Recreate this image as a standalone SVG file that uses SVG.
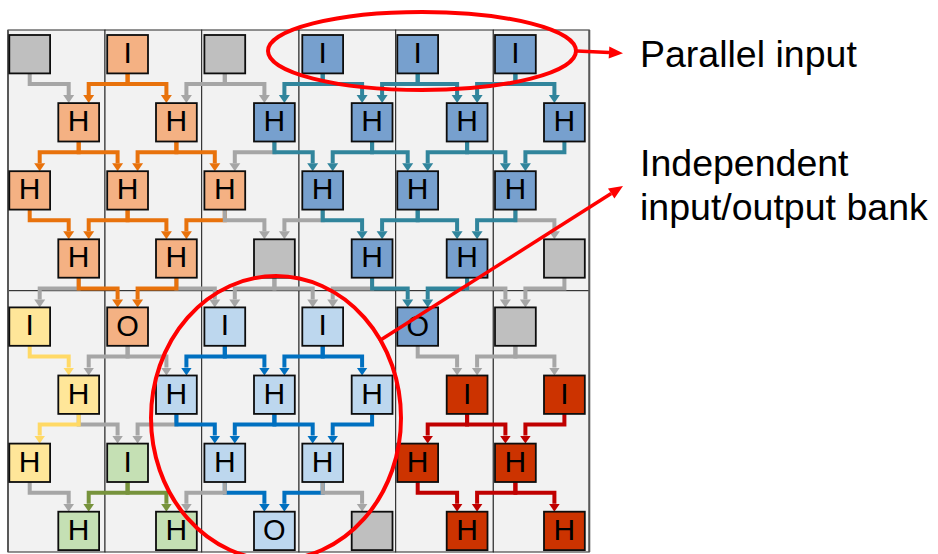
<svg xmlns="http://www.w3.org/2000/svg" width="938" height="554" viewBox="0 0 938 554">
  <style>
    .cell { fill:#F2F2F2; stroke:#262626; stroke-width:1; }
    .frame { fill:none; stroke:#595959; stroke-width:2; }
    .node rect { stroke:#0d0d0d; stroke-width:1.8; }
    .node text { font-family:"Liberation Sans", Arial, sans-serif; font-size:30px; text-anchor:middle; fill:#000; }
    .node text.o { font-size:29px; }
    .gry { fill:#BFBFBF; }
    .org { fill:#F4B183; }
    .blu { fill:#77A0CE; }
    .lbl { fill:#BDD7EE; }
    .yel { fill:#FFE699; }
    .grn { fill:#C5E0B4; }
    .red { fill:#CC3300; }
    .w { fill:none; stroke-width:4; stroke-linejoin:miter; stroke-linecap:butt; }
    .w-gry { stroke:#A6A6A6; marker-end:url(#ah-gry); }
    .w-org { stroke:#E8720C; marker-end:url(#ah-org); }
    .w-tea { stroke:#31859C; marker-end:url(#ah-tea); }
    .w-blu { stroke:#0070C0; marker-end:url(#ah-blu); }
    .w-yel { stroke:#FFD966; marker-end:url(#ah-yel); }
    .w-grn { stroke:#77933C; marker-end:url(#ah-grn); }
    .w-red { stroke:#C00000; marker-end:url(#ah-red); }
    .callout { fill:none; stroke:#FF0000; stroke-width:4; }
    .pointer { stroke:#FF0000; stroke-width:3.5; fill:none; }
    .tip { fill:#FF0000; }
    .label { font-family:"Liberation Sans", Arial, sans-serif; font-size:37.5px; fill:#000; }
  </style>
  <defs>
    <marker id="ah-gry" markerUnits="userSpaceOnUse" viewBox="0 -6 9 12" refX="0" refY="0" markerWidth="9" markerHeight="12" orient="auto"><path d="M0,-5.5 L8,0 L0,5.5 z" fill="#A6A6A6"/></marker>
    <marker id="ah-org" markerUnits="userSpaceOnUse" viewBox="0 -6 9 12" refX="0" refY="0" markerWidth="9" markerHeight="12" orient="auto"><path d="M0,-5.5 L8,0 L0,5.5 z" fill="#E8720C"/></marker>
    <marker id="ah-tea" markerUnits="userSpaceOnUse" viewBox="0 -6 9 12" refX="0" refY="0" markerWidth="9" markerHeight="12" orient="auto"><path d="M0,-5.5 L8,0 L0,5.5 z" fill="#31859C"/></marker>
    <marker id="ah-blu" markerUnits="userSpaceOnUse" viewBox="0 -6 9 12" refX="0" refY="0" markerWidth="9" markerHeight="12" orient="auto"><path d="M0,-5.5 L8,0 L0,5.5 z" fill="#0070C0"/></marker>
    <marker id="ah-yel" markerUnits="userSpaceOnUse" viewBox="0 -6 9 12" refX="0" refY="0" markerWidth="9" markerHeight="12" orient="auto"><path d="M0,-5.5 L8,0 L0,5.5 z" fill="#FFD966"/></marker>
    <marker id="ah-grn" markerUnits="userSpaceOnUse" viewBox="0 -6 9 12" refX="0" refY="0" markerWidth="9" markerHeight="12" orient="auto"><path d="M0,-5.5 L8,0 L0,5.5 z" fill="#77933C"/></marker>
    <marker id="ah-red" markerUnits="userSpaceOnUse" viewBox="0 -6 9 12" refX="0" refY="0" markerWidth="9" markerHeight="12" orient="auto"><path d="M0,-5.5 L8,0 L0,5.5 z" fill="#C00000"/></marker>
  </defs>

  <!-- column cells: upper and lower panels -->
  <g id="grid">
    <rect class="cell" x="8" y="30" width="97" height="260.7"/>
    <rect class="cell" x="105" y="30" width="96.7" height="260.7"/>
    <rect class="cell" x="201.7" y="30" width="97.3" height="260.7"/>
    <rect class="cell" x="299" y="30" width="96.7" height="260.7"/>
    <rect class="cell" x="395.7" y="30" width="97.6" height="260.7"/>
    <rect class="cell" x="493.3" y="30" width="96" height="260.7"/>
    <rect class="cell" x="8" y="290.7" width="97" height="261.3"/>
    <rect class="cell" x="105" y="290.7" width="96.7" height="261.3"/>
    <rect class="cell" x="201.7" y="290.7" width="97.3" height="261.3"/>
    <rect class="cell" x="299" y="290.7" width="96.7" height="261.3"/>
    <rect class="cell" x="395.7" y="290.7" width="97.6" height="261.3"/>
    <rect class="cell" x="493.3" y="290.7" width="96" height="261.3"/>
    <path class="frame" d="M8,30 V552 M589.3,30 V552"/>
  </g>

  <!-- connectors -->
  <g id="connectors">
    <!-- row 1 to row 2 -->
    <path class="w w-gry" d="M29.7 72.4 V84.1 H68.7 V95.1"/>
    <path class="w w-org" d="M127.6 72.4 V84.1 H88.7 V95.1"/>
    <path class="w w-org" d="M127.6 72.4 V84.1 H166.4 V95.1"/>
    <path class="w w-gry" d="M224.8 72.4 V84.1 H186.4 V95.1"/>
    <path class="w w-gry" d="M224.8 72.4 V84.1 H264.4 V95.1"/>
    <path class="w w-tea" d="M322.7 72.4 V84.1 H284.4 V95.1"/>
    <path class="w w-tea" d="M322.7 72.4 V84.1 H362.1 V95.1"/>
    <path class="w w-tea" d="M417.7 72.4 V84.1 H382.1 V95.1"/>
    <path class="w w-tea" d="M417.7 72.4 V84.1 H457.1 V95.1"/>
    <path class="w w-tea" d="M515.4 72.4 V84.1 H477.1 V95.1"/>
    <path class="w w-tea" d="M515.4 72.4 V84.1 H554.4 V95.1"/>

    <!-- row 2 to row 3 -->
    <path class="w w-org" d="M78.7 140.5 V152.2 H39.7 V163.2"/>
    <path class="w w-org" d="M78.7 140.5 V152.2 H117.6 V163.2"/>
    <path class="w w-org" d="M176.4 140.5 V152.2 H137.6 V163.2"/>
    <path class="w w-org" d="M176.4 140.5 V152.2 H214.8 V163.2"/>
    <path class="w w-gry" d="M274.4 140.5 V152.2 H234.8 V163.2"/>
    <path class="w w-tea" d="M274.4 140.5 V152.2 H312.7 V163.2"/>
    <path class="w w-tea" d="M372.1 140.5 V152.2 H332.7 V163.2"/>
    <path class="w w-tea" d="M372.1 140.5 V152.2 H407.7 V163.2"/>
    <path class="w w-tea" d="M467.1 140.5 V152.2 H427.7 V163.2"/>
    <path class="w w-tea" d="M467.1 140.5 V152.2 H505.4 V163.2"/>
    <path class="w w-tea" d="M564.4 140.5 V152.2 H525.4 V163.2"/>

    <!-- row 3 to row 4 -->
    <path class="w w-org" d="M29.7 208.6 V220.3 H68.7 V231.3"/>
    <path class="w w-org" d="M127.6 208.6 V220.3 H88.7 V231.3"/>
    <path class="w w-org" d="M127.6 208.6 V220.3 H166.4 V231.3"/>
    <path class="w w-org" d="M224.8 208.6 V220.3 H186.4 V231.3"/>
    <path class="w w-gry" d="M224.8 208.6 V220.3 H264.4 V231.3"/>
    <path class="w w-gry" d="M322.7 208.6 V220.3 H284.4 V231.3"/>
    <path class="w w-tea" d="M322.7 208.6 V220.3 H362.1 V231.3"/>
    <path class="w w-tea" d="M417.7 208.6 V220.3 H382.1 V231.3"/>
    <path class="w w-tea" d="M417.7 208.6 V220.3 H457.1 V231.3"/>
    <path class="w w-gry" d="M515.4 208.6 V220.3 H554.4 V231.3"/>
    <path class="w w-tea" d="M515.4 208.6 V220.3 H477.1 V231.3"/>

    <!-- row 4 to row 5 -->
    <path class="w w-gry" d="M78.7 276.7 V288.4 H39.7 V299.4"/>
    <path class="w w-org" d="M78.7 276.7 V288.4 H117.6 V299.4"/>
    <path class="w w-gry" d="M176.4 276.7 V288.4 H214.8 V299.4"/>
    <path class="w w-org" d="M176.4 276.7 V288.4 H137.6 V299.4"/>
    <path class="w w-gry" d="M274.4 276.7 V288.4 H234.8 V299.4"/>
    <path class="w w-gry" d="M274.4 276.7 V288.4 H312.7 V299.4"/>
    <path class="w w-gry" d="M372.1 276.7 V288.4 H332.7 V299.4"/>
    <path class="w w-tea" d="M372.1 276.7 V288.4 H407.7 V299.4"/>
    <path class="w w-gry" d="M467.1 276.7 V288.4 H505.4 V299.4"/>
    <path class="w w-tea" d="M467.1 276.7 V288.4 H427.7 V299.4"/>
    <path class="w w-gry" d="M564.4 276.7 V288.4 H525.4 V299.4"/>

    <!-- row 5 to row 6 -->
    <path class="w w-yel" d="M29.7 344.8 V356.5 H68.7 V367.5"/>
    <path class="w w-gry" d="M127.6 344.8 V356.5 H88.7 V367.5"/>
    <path class="w w-gry" d="M127.6 344.8 V356.5 H166.4 V367.5"/>
    <path class="w w-blu" d="M224.8 344.8 V356.5 H186.4 V367.5"/>
    <path class="w w-blu" d="M224.8 344.8 V356.5 H264.4 V367.5"/>
    <path class="w w-blu" d="M322.7 344.8 V356.5 H284.4 V367.5"/>
    <path class="w w-blu" d="M322.7 344.8 V356.5 H362.1 V367.5"/>
    <path class="w w-gry" d="M417.7 344.8 V356.5 H457.1 V367.5"/>
    <path class="w w-gry" d="M515.4 344.8 V356.5 H477.1 V367.5"/>
    <path class="w w-gry" d="M515.4 344.8 V356.5 H554.4 V367.5"/>

    <!-- row 6 to row 7 -->
    <path class="w w-gry" d="M78.7 412.9 V424.6 H117.6 V435.6"/>
    <path class="w w-yel" d="M78.7 412.9 V424.6 H39.7 V435.6"/>
    <path class="w w-gry" d="M176.4 412.9 V424.6 H137.6 V435.6"/>
    <path class="w w-blu" d="M176.4 412.9 V424.6 H214.8 V435.6"/>
    <path class="w w-blu" d="M274.4 412.9 V424.6 H234.8 V435.6"/>
    <path class="w w-blu" d="M274.4 412.9 V424.6 H312.7 V435.6"/>
    <path class="w w-blu" d="M372.1 412.9 V424.6 H332.7 V435.6"/>
    <path class="w w-red" d="M467.1 412.9 V424.6 H427.7 V435.6"/>
    <path class="w w-red" d="M467.1 412.9 V424.6 H505.4 V435.6"/>
    <path class="w w-red" d="M564.4 412.9 V424.6 H525.4 V435.6"/>

    <!-- row 7 to row 8 -->
    <path class="w w-gry" d="M29.7 481 V492.7 H68.7 V503.7"/>
    <path class="w w-grn" d="M127.6 481 V492.7 H88.7 V503.7"/>
    <path class="w w-grn" d="M127.6 481 V492.7 H166.4 V503.7"/>
    <path class="w w-blu" d="M224.8 481 V492.7 H264.4 V503.7"/>
    <path class="w w-gry" d="M224.8 481 V492.7 H186.4 V503.7"/>
    <path class="w w-blu" d="M322.7 481 V492.7 H284.4 V503.7"/>
    <path class="w w-gry" d="M322.7 481 V492.7 H362.1 V503.7"/>
    <path class="w w-red" d="M417.7 481 V492.7 H457.1 V503.7"/>
    <path class="w w-red" d="M515.4 481 V492.7 H477.1 V503.7"/>
    <path class="w w-red" d="M515.4 481 V492.7 H554.4 V503.7"/>
  </g>

  <!-- row 1 -->
  <g id="n11" class="node"><rect class="gry" x="9.3" y="35" width="40.8" height="38.4"/></g>
  <g id="n12" class="node"><rect class="org" x="107.2" y="35" width="40.8" height="38.4"/><text x="127.6" y="63">I</text></g>
  <g id="n13" class="node"><rect class="gry" x="204.4" y="35" width="40.8" height="38.4"/></g>
  <g id="n14" class="node"><rect class="blu" x="302.3" y="35" width="40.8" height="38.4"/><text x="322.7" y="63">I</text></g>
  <g id="n15" class="node"><rect class="blu" x="397.3" y="35" width="40.8" height="38.4"/><text x="417.7" y="63">I</text></g>
  <g id="n16" class="node"><rect class="blu" x="495" y="35" width="40.8" height="38.4"/><text x="515.4" y="63">I</text></g>

  <!-- row 2 -->
  <g id="n21" class="node"><rect class="org" x="58.3" y="103.1" width="40.8" height="38.4"/><text x="78.7" y="131.1">H</text></g>
  <g id="n22" class="node"><rect class="org" x="156" y="103.1" width="40.8" height="38.4"/><text x="176.4" y="131.1">H</text></g>
  <g id="n23" class="node"><rect class="blu" x="254" y="103.1" width="40.8" height="38.4"/><text x="274.4" y="131.1">H</text></g>
  <g id="n24" class="node"><rect class="blu" x="351.7" y="103.1" width="40.8" height="38.4"/><text x="372.1" y="131.1">H</text></g>
  <g id="n25" class="node"><rect class="blu" x="446.7" y="103.1" width="40.8" height="38.4"/><text x="467.1" y="131.1">H</text></g>
  <g id="n26" class="node"><rect class="blu" x="544" y="103.1" width="40.8" height="38.4"/><text x="564.4" y="131.1">H</text></g>

  <!-- row 3 -->
  <g id="n31" class="node"><rect class="org" x="9.3" y="171.2" width="40.8" height="38.4"/><text x="29.7" y="199.2">H</text></g>
  <g id="n32" class="node"><rect class="org" x="107.2" y="171.2" width="40.8" height="38.4"/><text x="127.6" y="199.2">H</text></g>
  <g id="n33" class="node"><rect class="org" x="204.4" y="171.2" width="40.8" height="38.4"/><text x="224.8" y="199.2">H</text></g>
  <g id="n34" class="node"><rect class="blu" x="302.3" y="171.2" width="40.8" height="38.4"/><text x="322.7" y="199.2">H</text></g>
  <g id="n35" class="node"><rect class="blu" x="397.3" y="171.2" width="40.8" height="38.4"/><text x="417.7" y="199.2">H</text></g>
  <g id="n36" class="node"><rect class="blu" x="495" y="171.2" width="40.8" height="38.4"/><text x="515.4" y="199.2">H</text></g>

  <!-- row 4 -->
  <g id="n41" class="node"><rect class="org" x="58.3" y="239.3" width="40.8" height="38.4"/><text x="78.7" y="267.3">H</text></g>
  <g id="n42" class="node"><rect class="org" x="156" y="239.3" width="40.8" height="38.4"/><text x="176.4" y="267.3">H</text></g>
  <g id="n43" class="node"><rect class="gry" x="254" y="239.3" width="40.8" height="38.4"/></g>
  <g id="n44" class="node"><rect class="blu" x="351.7" y="239.3" width="40.8" height="38.4"/><text x="372.1" y="267.3">H</text></g>
  <g id="n45" class="node"><rect class="blu" x="446.7" y="239.3" width="40.8" height="38.4"/><text x="467.1" y="267.3">H</text></g>
  <g id="n46" class="node"><rect class="gry" x="544" y="239.3" width="40.8" height="38.4"/></g>

  <!-- row 5 -->
  <g id="n51" class="node"><rect class="yel" x="9.3" y="307.4" width="40.8" height="38.4"/><text x="29.7" y="335.4">I</text></g>
  <g id="n52" class="node"><rect class="org" x="107.2" y="307.4" width="40.8" height="38.4"/><text class="o" x="127.6" y="335.6">O</text></g>
  <g id="n53" class="node"><rect class="lbl" x="204.4" y="307.4" width="40.8" height="38.4"/><text x="224.8" y="335.4">I</text></g>
  <g id="n54" class="node"><rect class="lbl" x="302.3" y="307.4" width="40.8" height="38.4"/><text x="322.7" y="335.4">I</text></g>
  <g id="n55" class="node"><rect class="blu" x="397.3" y="307.4" width="40.8" height="38.4"/><text class="o" x="417.7" y="335.6">O</text></g>
  <g id="n56" class="node"><rect class="gry" x="495" y="307.4" width="40.8" height="38.4"/></g>

  <!-- row 6 -->
  <g id="n61" class="node"><rect class="yel" x="58.3" y="375.5" width="40.8" height="38.4"/><text x="78.7" y="403.5">H</text></g>
  <g id="n62" class="node"><rect class="lbl" x="156" y="375.5" width="40.8" height="38.4"/><text x="176.4" y="403.5">H</text></g>
  <g id="n63" class="node"><rect class="lbl" x="254" y="375.5" width="40.8" height="38.4"/><text x="274.4" y="403.5">H</text></g>
  <g id="n64" class="node"><rect class="lbl" x="351.7" y="375.5" width="40.8" height="38.4"/><text x="372.1" y="403.5">H</text></g>
  <g id="n65" class="node"><rect class="red" x="446.7" y="375.5" width="40.8" height="38.4"/><text x="467.1" y="403.5">I</text></g>
  <g id="n66" class="node"><rect class="red" x="544" y="375.5" width="40.8" height="38.4"/><text x="564.4" y="403.5">I</text></g>

  <!-- row 7 -->
  <g id="n71" class="node"><rect class="yel" x="9.3" y="443.6" width="40.8" height="38.4"/><text x="29.7" y="471.6">H</text></g>
  <g id="n72" class="node"><rect class="grn" x="107.2" y="443.6" width="40.8" height="38.4"/><text x="127.6" y="471.6">I</text></g>
  <g id="n73" class="node"><rect class="lbl" x="204.4" y="443.6" width="40.8" height="38.4"/><text x="224.8" y="471.6">H</text></g>
  <g id="n74" class="node"><rect class="lbl" x="302.3" y="443.6" width="40.8" height="38.4"/><text x="322.7" y="471.6">H</text></g>
  <g id="n75" class="node"><rect class="red" x="397.3" y="443.6" width="40.8" height="38.4"/><text x="417.7" y="471.6">H</text></g>
  <g id="n76" class="node"><rect class="red" x="495" y="443.6" width="40.8" height="38.4"/><text x="515.4" y="471.6">H</text></g>

  <!-- row 8 -->
  <g id="n81" class="node"><rect class="grn" x="58.3" y="511.7" width="40.8" height="38.4"/><text x="78.7" y="539.7">H</text></g>
  <g id="n82" class="node"><rect class="grn" x="156" y="511.7" width="40.8" height="38.4"/><text x="176.4" y="539.7">H</text></g>
  <g id="n83" class="node"><rect class="lbl" x="254" y="511.7" width="40.8" height="38.4"/><text class="o" x="274.4" y="539.9">O</text></g>
  <g id="n84" class="node"><rect class="gry" x="351.7" y="511.7" width="40.8" height="38.4"/></g>
  <g id="n85" class="node"><rect class="red" x="446.7" y="511.7" width="40.8" height="38.4"/><text x="467.1" y="539.7">H</text></g>
  <g id="n86" class="node"><rect class="red" x="544" y="511.7" width="40.8" height="38.4"/><text x="564.4" y="539.7">H</text></g>

  <!-- callouts -->
  <g id="callout-parallel">
    <ellipse class="callout" cx="422" cy="51" rx="154" ry="39"/>
    <path class="pointer" d="M577,51 L609,52.5"/>
    <polygon class="tip" points="623,53.3 608.7,58.5 609.3,46.5"/>
    <text class="label" x="640" y="67">Parallel input</text>
  </g>
  <g id="callout-bank">
    <ellipse class="callout" cx="276" cy="418" rx="125" ry="142"/>
    <path class="pointer" d="M379,341 L611.2,193.5"/>
    <polygon class="tip" points="623,186 614.4,198.6 608,188.4"/>
    <text class="label" x="640" y="176">Independent</text>
    <text class="label" x="640" y="220">input/output bank</text>
  </g>
</svg>
